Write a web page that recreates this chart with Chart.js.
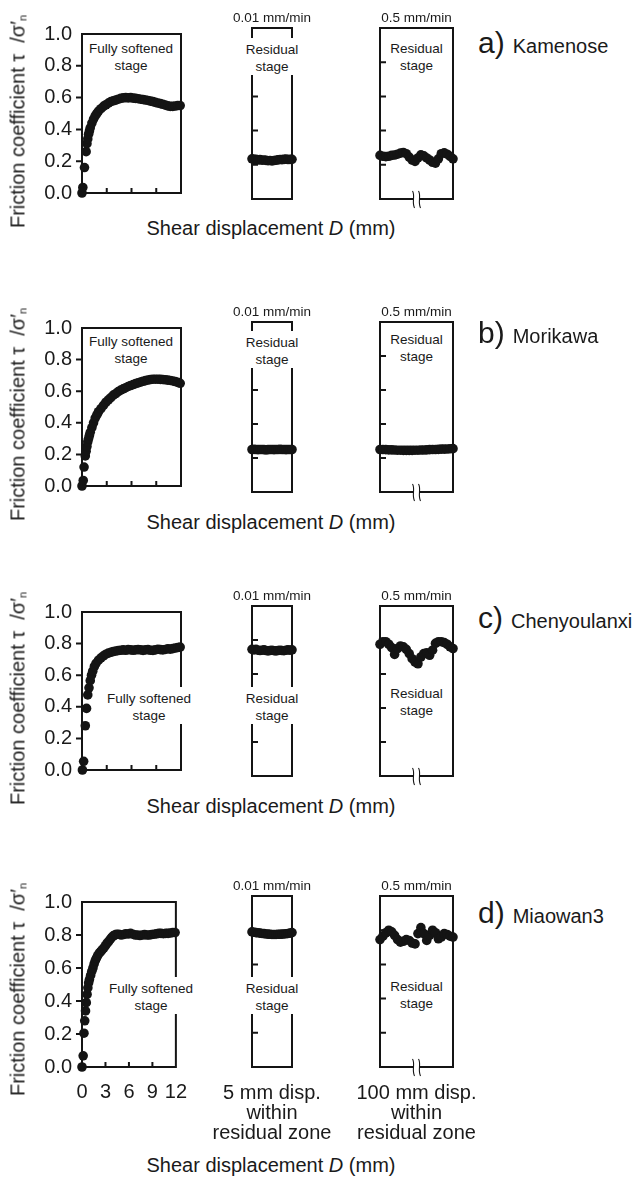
<!DOCTYPE html>
<html><head><meta charset="utf-8">
<script src="https://cdn.jsdelivr.net/npm/chart.js@4.4.0/dist/chart.umd.min.js"></script>
<style>
html,body{margin:0;padding:0;background:#fff;}
body{width:637px;height:1177px;position:relative;overflow:hidden;font-family:"Liberation Sans",Arial,Helvetica,sans-serif;color:#1a1a1a;}
canvas{position:absolute;}
.stage{position:absolute;font-size:13.5px;line-height:17px;text-align:center;background:#fff;padding:3px 1px 0;transform:translateX(-50%);white-space:pre-line;}
.rate{position:absolute;font-size:13.5px;line-height:16px;transform:translateX(-50%);white-space:nowrap;}
.ylab{position:absolute;width:280px;font-size:20px;line-height:24px;text-align:center;transform:rotate(-90deg);white-space:nowrap;}
.ylab sub{font-size:11px;vertical-align:-2px;}
.shear{position:absolute;width:400px;font-size:20px;line-height:24px;text-align:center;white-space:nowrap;}
.name{position:absolute;font-size:30px;line-height:30px;white-space:nowrap;}
.name span{font-size:20px;margin-left:8px;}
.bot{position:absolute;width:160px;font-size:20px;line-height:20px;text-align:center;transform:translateX(-50%);white-space:pre-line;}
</style></head><body>
<script>
// ---------- text / tick data ----------
const panelLetters = ['a)', 'b)', 'c)', 'd)'];
const siteNames = ['Kamenose', 'Morikawa', 'Chenyoulanxi', 'Miaowan3'];
const rateLabels = ['0.01 mm/min', '0.5 mm/min'];
const stageLabels = ['Fully softened\nstage', 'Residual\nstage'];
const bottomLabels = ['5 mm disp.\nwithin\nresidual zone', '100 mm disp.\nwithin\nresidual zone'];
const yTicks = [0, 0.2, 0.4, 0.6, 0.8, 1.0];
const xTicksSoftened = [0, 3, 6, 9, 12];

// ---------- series data ----------
const res01X = [0,0.25,0.5,0.75,1,1.25,1.5,1.75,2,2.25,2.5,2.75,3,3.25,3.5,3.75,4,4.25,4.5,4.75,5];
const res05X = [0,4,8,12,16,20,24,28,32,36,40,44,48,52,56,60,64,68,72,76,80,84,88,92,96,100];

// a) Kamenose
const kamSoftX = [0,0.1,0.3,0.5,0.6,0.7,0.8,0.9,1.0,1.2,1.4,1.6,1.8,2.0,2.3,2.6,2.9,3.2,3.5,3.8,4.1,4.4,4.7,5.0,5.3,5.6,5.9,6.2,6.5,6.8,7.1,7.4,7.7,8.0,8.3,8.6,8.9,9.2,9.5,9.8,10.1,10.4,10.7,11.0,11.3,11.6,11.9];
const kamSoftY = [0.00,0.035,0.16,0.26,0.31,0.34,0.37,0.39,0.41,0.44,0.465,0.485,0.50,0.515,0.53,0.545,0.555,0.565,0.575,0.58,0.585,0.59,0.595,0.598,0.60,0.598,0.60,0.597,0.595,0.593,0.59,0.588,0.585,0.582,0.578,0.575,0.57,0.566,0.562,0.558,0.553,0.548,0.545,0.545,0.547,0.55,0.55];
const kamRes01Y = [0.235,0.232,0.232,0.228,0.23,0.227,0.228,0.226,0.224,0.225,0.223,0.225,0.227,0.229,0.231,0.23,0.232,0.233,0.231,0.232,0.232];
const kamRes05Y = [0.255,0.25,0.248,0.25,0.255,0.257,0.262,0.268,0.272,0.265,0.245,0.228,0.22,0.24,0.258,0.252,0.24,0.228,0.215,0.21,0.235,0.265,0.27,0.262,0.25,0.235];

// b) Morikawa
const morSoftX = [0,0.15,0.25,0.4,0.5,0.6,0.7,0.8,0.9,1.0,1.2,1.4,1.6,1.8,2.0,2.3,2.6,2.9,3.2,3.5,3.8,4.1,4.4,4.7,5.0,5.3,5.6,5.9,6.2,6.5,6.8,7.1,7.4,7.7,8.0,8.3,8.6,8.9,9.2,9.5,9.8,10.1,10.4,10.7,11.0,11.3,11.6,11.9];
const morSoftY = [0.0,0.035,0.12,0.19,0.22,0.25,0.28,0.30,0.32,0.34,0.37,0.40,0.43,0.45,0.47,0.49,0.51,0.53,0.545,0.56,0.575,0.585,0.597,0.607,0.615,0.622,0.63,0.636,0.642,0.648,0.653,0.658,0.663,0.667,0.671,0.674,0.676,0.676,0.676,0.675,0.674,0.672,0.67,0.668,0.665,0.661,0.656,0.65];
const morRes01Y = [0.25,0.251,0.25,0.249,0.25,0.25,0.249,0.248,0.249,0.25,0.25,0.249,0.25,0.25,0.251,0.25,0.25,0.249,0.25,0.25,0.25];
const morRes05Y = [0.25,0.25,0.249,0.248,0.248,0.247,0.246,0.246,0.245,0.245,0.245,0.245,0.246,0.246,0.247,0.247,0.248,0.249,0.25,0.25,0.251,0.252,0.252,0.253,0.254,0.255];

// c) Chenyoulanxi
const chenSoftX = [0.05,0.2,0.4,0.55,0.7,0.85,1.0,1.15,1.3,1.5,1.7,2.0,2.3,2.6,2.9,3.2,3.5,3.8,4.1,4.4,4.7,5.0,5.3,5.6,5.9,6.2,6.5,6.8,7.1,7.4,7.7,8.0,8.3,8.6,8.9,9.2,9.5,9.8,10.1,10.4,10.7,11.0,11.3,11.6,11.9];
const chenSoftY = [0.0,0.055,0.28,0.39,0.475,0.52,0.565,0.60,0.625,0.655,0.675,0.695,0.71,0.722,0.733,0.74,0.745,0.75,0.753,0.756,0.758,0.76,0.758,0.762,0.76,0.758,0.76,0.762,0.76,0.757,0.76,0.762,0.758,0.757,0.76,0.764,0.762,0.76,0.763,0.767,0.765,0.768,0.772,0.775,0.778];
const chenRes01Y = [0.745,0.742,0.745,0.74,0.738,0.74,0.742,0.738,0.736,0.738,0.74,0.737,0.736,0.738,0.74,0.738,0.737,0.74,0.742,0.74,0.742];
const chenRes05Y = [0.775,0.79,0.79,0.775,0.755,0.715,0.75,0.765,0.76,0.745,0.72,0.69,0.67,0.66,0.70,0.72,0.725,0.71,0.74,0.78,0.79,0.79,0.785,0.775,0.76,0.75];

// d) Miaowan3
const miaSoftX = [0,0.15,0.25,0.35,0.45,0.55,0.65,0.75,0.85,0.95,1.1,1.25,1.4,1.55,1.7,1.85,2.0,2.2,2.4,2.6,2.8,3.0,3.2,3.4,3.6,3.8,4.0,4.2,4.4,4.7,5.0,5.3,5.6,5.9,6.2,6.5,6.8,7.1,7.4,7.7,8.0,8.3,8.6,8.9,9.2,9.5,9.8,10.1,10.4,10.7,11.0,11.3,11.6,11.9];
const miaSoftY = [0,0.068,0.205,0.28,0.34,0.39,0.44,0.48,0.51,0.53,0.555,0.58,0.60,0.625,0.645,0.66,0.675,0.69,0.70,0.712,0.722,0.735,0.75,0.76,0.773,0.785,0.795,0.80,0.805,0.805,0.80,0.803,0.808,0.806,0.81,0.805,0.80,0.80,0.797,0.80,0.802,0.80,0.80,0.803,0.805,0.807,0.81,0.81,0.808,0.81,0.81,0.812,0.815,0.815];
const miaRes01Y = [0.79,0.788,0.786,0.785,0.783,0.781,0.78,0.778,0.777,0.776,0.775,0.775,0.775,0.776,0.776,0.777,0.778,0.779,0.781,0.783,0.786];
const miaRes05Y = [0.745,0.765,0.785,0.80,0.79,0.77,0.745,0.73,0.735,0.745,0.74,0.725,0.72,0.78,0.815,0.78,0.74,0.77,0.80,0.785,0.75,0.76,0.78,0.775,0.765,0.76];

const softX = [kamSoftX, morSoftX, chenSoftX, miaSoftX];
const softY = [kamSoftY, morSoftY, chenSoftY, miaSoftY];
const res01Y = [kamRes01Y, morRes01Y, chenRes01Y, miaRes01Y];
const res05Y = [kamRes05Y, morRes05Y, chenRes05Y, miaRes05Y];

// ---------- layout ----------
const INK = '#141414';
const TXT = '#1a1a1a';
const FAM = '"Liberation Sans", Arial, Helvetica, sans-serif';
const rows = [
  {top:28,  bottom:199,  nameBase:53,  shearY:228,  s1:[131,48],  s2:49,  s3:48},
  {top:322, bottom:492,  nameBase:343, shearY:522,  s1:[131,341], s2:342, s3:339},
  {top:606, bottom:776,  nameBase:628, shearY:806,  s1:[149,698], s2:698, s3:693},
  {top:896, bottom:1067, nameBase:923, shearY:1165, s1:[151,988], s2:988, s3:986}
];
const boxX = [[82,181],[252,292],[380,453]];

const framePlugin = {
  id: 'frame',
  beforeDatasetsDraw(chart, args, o) {
    const {ctx, chartArea: a, scales} = chart;
    ctx.save();
    ctx.strokeStyle = INK;
    ctx.lineWidth = 2;
    ctx.strokeRect(a.left, a.top, a.right - a.left, a.bottom - a.top);
    ctx.beginPath();
    (o.yIn || []).forEach(v => { const y = scales.y.getPixelForValue(v); ctx.moveTo(a.left, y); ctx.lineTo(a.left + 6, y); });
    (o.yOut || []).forEach(v => { const y = scales.y.getPixelForValue(v); ctx.moveTo(a.left, y); ctx.lineTo(a.left - 6, y); });
    (o.xIn || []).forEach(v => { const x = scales.x.getPixelForValue(v); ctx.moveTo(x, a.bottom); ctx.lineTo(x, a.bottom - 5); });
    ctx.stroke();
    if (o.brk) {
      const cx = (a.left + a.right) / 2, b = a.bottom;
      ctx.fillStyle = '#fff';
      ctx.fillRect(cx - 3, b - 2, 6, 4);
      ctx.lineWidth = 1.1;
      [-3, 3].forEach(dx => {
        ctx.beginPath();
        ctx.moveTo(cx + dx - 1, b - 8);
        ctx.bezierCurveTo(cx + dx + 2, b - 3, cx + dx - 2, b + 3, cx + dx + 1, b + 9);
        ctx.stroke();
      });
    }
    ctx.restore();
  }
};

function addDiv(cls, html, styles) {
  const d = document.createElement('div');
  d.className = cls;
  d.innerHTML = html;
  Object.assign(d.style, styles);
  document.body.appendChild(d);
  return d;
}

function makeChart(c) {
  const cv = document.createElement('canvas');
  cv.width = c.w; cv.height = c.h;
  Object.assign(cv.style, {left: c.x + 'px', top: c.y + 'px', width: c.w + 'px', height: c.h + 'px'});
  document.body.appendChild(cv);
  const pts = c.xs.map((x, i) => ({x: x, y: c.ys[i]}));
  new Chart(cv, {
    type: 'scatter',
    data: {datasets: [{data: pts, pointRadius: 4.8, pointBackgroundColor: INK, pointBorderColor: INK, pointBorderWidth: 0, showLine: false, clip: false}]},
    options: {
      responsive: false, animation: false, events: [], devicePixelRatio: 1,
      layout: {padding: c.pad},
      plugins: {legend: {display: false}, tooltip: {enabled: false}, frame: c.frame},
      scales: {
        x: {
          type: 'linear', min: 0, max: c.xmax, display: !!c.showX,
          grid: {display: false, drawTicks: false}, border: {display: false},
          afterBuildTicks: s => { s.ticks = xTicksSoftened.map(v => ({value: v})); },
          ticks: {autoSkip: false, maxRotation: 0, padding: 13, color: TXT, font: {family: FAM, size: 20}, callback: v => String(v)},
          afterFit: s => { if (s.options.display) s.height = 50; }
        },
        y: {
          type: 'linear', min: 0, max: 1, display: !!c.showY,
          grid: {display: false, drawTicks: false}, border: {display: false},
          afterBuildTicks: s => { s.ticks = yTicks.map(v => ({value: v})); },
          ticks: {autoSkip: false, padding: 10, color: TXT, font: {family: FAM, size: 20}, callback: v => Number(v).toFixed(1)},
          afterFit: s => { if (s.options.display) s.width = 82; }
        }
      }
    },
    plugins: [framePlugin]
  });
}

const inner = yTicks.filter(v => v > 0 && v < 1);

rows.forEach((r, i) => {
  const h = r.bottom - r.top;
  const last = i === rows.length - 1;
  makeChart({x: 0, y: r.top - 16, w: 200, h: h + 16 + (last ? 50 : 16),
    pad: {left: 0, top: 16, right: 200 - boxX[0][1], bottom: last ? 0 : 16},
    xs: softX[i], ys: softY[i], xmax: 12, showY: true, showX: last,
    frame: {yOut: inner, xIn: xTicksSoftened.filter(v => v > 0 && v < 12)}});
  makeChart({x: boxX[1][0] - 20, y: r.top - 16, w: (boxX[1][1] - boxX[1][0]) + 40, h: h + 32,
    pad: {left: 20, top: 16, right: 20, bottom: 16},
    xs: res01X, ys: res01Y[i], xmax: 5, frame: {yIn: inner}});
  makeChart({x: boxX[2][0] - 20, y: r.top - 16, w: (boxX[2][1] - boxX[2][0]) + 40, h: h + 32,
    pad: {left: 20, top: 16, right: 20, bottom: 16},
    xs: res05X, ys: res05Y[i], xmax: 100, frame: {yIn: inner, brk: true}});

  addDiv('rate', rateLabels[0], {left: ((boxX[1][0] + boxX[1][1]) / 2) + 'px', top: (r.top - 18) + 'px'});
  addDiv('rate', rateLabels[1], {left: ((boxX[2][0] + boxX[2][1]) / 2) + 'px', top: (r.top - 18) + 'px'});
  addDiv('stage', stageLabels[0], {left: r.s1[0] + 'px', top: (r.s1[1] - 11.5) + 'px'});
  addDiv('stage', stageLabels[1], {left: ((boxX[1][0] + boxX[1][1]) / 2) + 'px', top: (r.s2 - 11.5) + 'px'});
  addDiv('stage', stageLabels[1], {left: ((boxX[2][0] + boxX[2][1]) / 2) + 'px', top: (r.s3 - 11.5) + 'px'});
  addDiv('ylab', 'Friction coefficient τ&nbsp;&nbsp;/σ′<sub>n</sub>', {left: (20 - 140) + 'px', top: ((r.top + r.bottom) / 2 + 5 - 12) + 'px'});
  addDiv('shear', 'Shear displacement <i>D</i> (mm)', {left: (271 - 200) + 'px', top: (r.shearY - 12) + 'px'});
  addDiv('name', panelLetters[i] + '<span>' + siteNames[i] + '</span>', {left: '478px', top: (r.nameBase - 25) + 'px'});
  if (last) {
    addDiv('bot', bottomLabels[0], {left: ((boxX[1][0] + boxX[1][1]) / 2) + 'px', top: (r.bottom + 15) + 'px'});
    addDiv('bot', bottomLabels[1], {left: ((boxX[2][0] + boxX[2][1]) / 2) + 'px', top: (r.bottom + 15) + 'px'});
  }
});
</script>
</body></html>
